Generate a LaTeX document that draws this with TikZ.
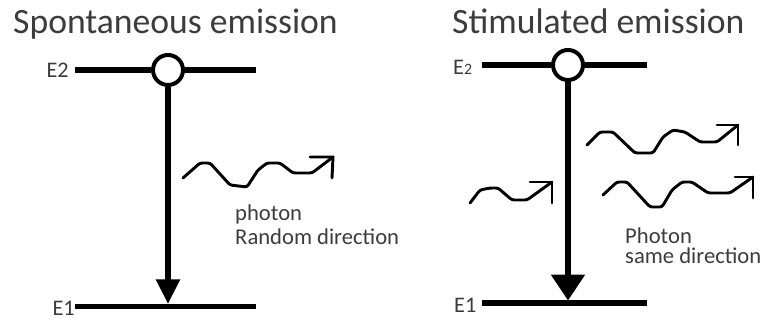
\documentclass[tikz,border=0pt]{standalone}
\usepackage{fontspec}
\setmainfont{Carlito}
\usetikzlibrary{arrows.meta}
\definecolor{testo}{HTML}{3C3C3C}
\tikzset{
  level/.style={line width=4.3pt},
  decay/.style={line width=4.7pt},
  atom/.style={circle,draw,fill=white,line width=3.4pt,minimum size=0.9cm,inner sep=0pt},
  photon/.style={line width=2.5pt,rounded corners=2pt,line join=round,line cap=round},
  title/.style={font=\fontsize{30.4}{36}\selectfont,text=testo,anchor=base west,inner sep=0pt},
  elabel/.style={font=\fontsize{19}{21}\selectfont,text=testo,inner sep=0pt},
  note/.style={text=testo,anchor=base west,inner sep=0pt,align=left}
}
\begin{document}
\begin{tikzpicture}[x=0.03cm,y=-0.03cm]
    \useasboundingbox (0,0) rectangle (765,320);
    % --- spontaneous emission ---
    \node[title] (titA) at (13,34) {Spontaneous emission};
    \node[elabel,anchor=base east] (E2a) at (69,78) {E2};
    \node[elabel,anchor=base east] (E1a) at (75,315) {E1};
    \node[atom] (atomA) at (168,70) {};
    \coordinate (endA) at (168,304);
    \draw[level] (75,70) -- (atomA.west)  (atomA.east) -- (256,70);
    \draw[level] (E1a.east |- 0,306.5) -- (256,306.5);
    \draw[decay,-{Triangle[width=19.6pt,length=21pt]}] (atomA.south) -- (endA);
    \draw[photon] (183,178) -- (200,163) -- (210,163) -- (230,185) -- (247,187) -- (258,170)
                  -- (267,163) -- (280,163) -- (293,173) -- (312,173) -- (333,157);
    \draw[photon,sharp corners] (310,157) -- (333,157) -- (332,178);
    \node[note,font=\fontsize{19.3}{21.3}\selectfont] (notA) at (235,245) {photon\\Random direction};
    % --- stimulated emission ---
    \node[title] (titB) at (452,34) {Stimulated emission};
    \node[elabel,anchor=base west] (E2b) at (453,75) {E{\fontsize{13.5}{14}\selectfont 2}};
    \node[elabel,anchor=base west] (E1b) at (454,312) {E1};
    \node[atom] (atomB) at (568,65) {};
    \coordinate (endB) at (568,300.5);
    \draw[level] (482,65) -- (atomB.west)  (atomB.east) -- (647,65);
    \draw[level] (482,303) -- (647,303);
    \draw[decay,-{Triangle[width=28pt,length=22pt]}] (atomB.south) -- (endB);
    % incoming photon
    \draw[photon] (470,203) -- (480,190) -- (490,188) -- (498,188) -- (512,200) -- (527,200) -- (552,182);
    \draw[photon,sharp corners] (530,182) -- (552,182) -- (552,203);
    % two outgoing photons
    \draw[photon] (587,145) -- (600,132) -- (613,132) -- (635,153) -- (653,153) -- (663,137)
                  -- (673,130) -- (685,132) -- (700,142) -- (717,142) -- (738,125);
    \draw[photon,sharp corners] (717,125) -- (738,125) -- (738,145);
    \draw[photon] (603,195) -- (617,182) -- (627,182) -- (650,207) -- (662,207) -- (672,190)
                  -- (682,182) -- (692,182) -- (708,193) -- (730,193) -- (753,177);
    \draw[photon,sharp corners] (735,177) -- (753,177) -- (753,198);
    \node[note,font=\fontsize{19.3}{17.5}\selectfont] (notB) at (625,264) {Photon\\same direction};
\end{tikzpicture}
\end{document}
